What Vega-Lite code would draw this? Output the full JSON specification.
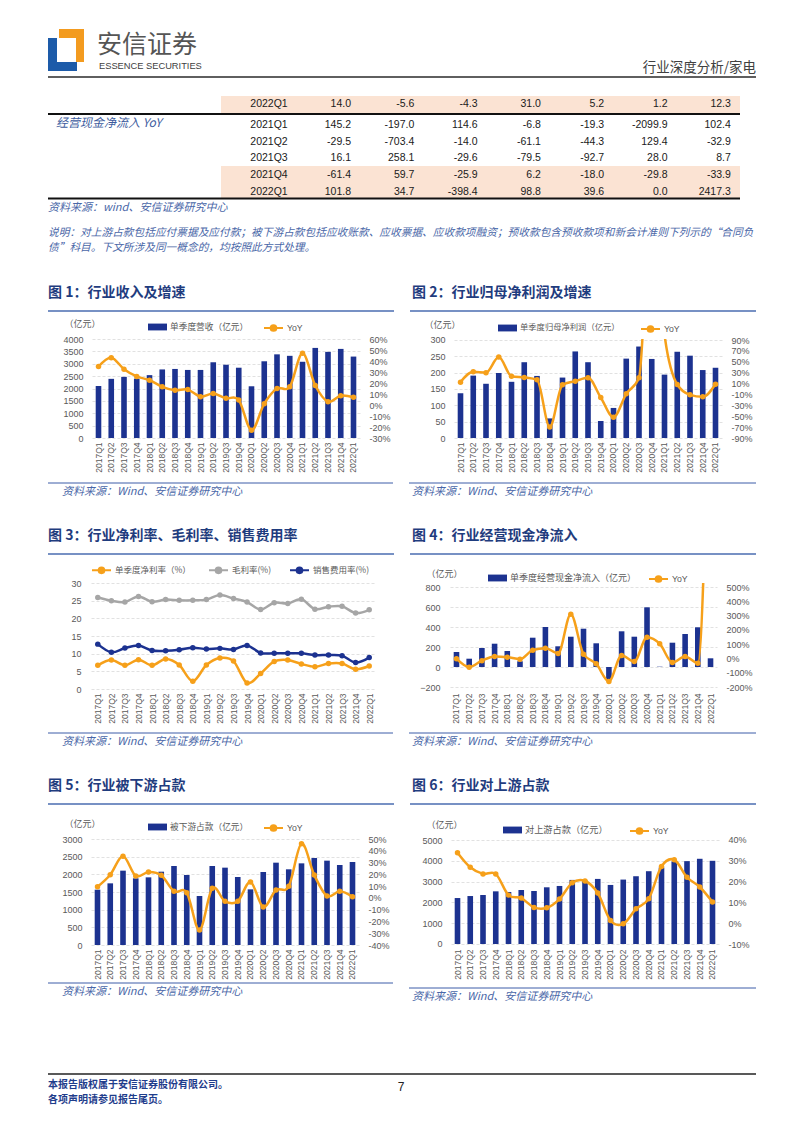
{
"$schema": "https://vega.github.io/schema/vega-lite/v6.json",
"padding": {"left": 47, "top": 0, "right": 0, "bottom": 0},
"spacing": 0,
"resolve": {"scale": {"fill": "independent", "stroke": "independent"}, "legend": {"fill": "independent", "stroke": "independent"}},
"datasets": {
"d": [
{"q":"2017Q1","rev":2100,"ry":35,"np":137,"ny":12.6,"nm":6.7,"gm":25.9,"sm":12.7,"cf":150,"cy":-2,"dn":1566,"dw":9.5,"up":2210,"uy":33.9},
{"q":"2017Q2","rev":2390,"ry":43,"np":191,"ny":31.6,"nm":8.2,"gm":25.0,"sm":10.4,"cf":83,"cy":-61,"dn":1745,"dw":19.7,"up":2306,"uy":26.9},
{"q":"2017Q3","rev":2470,"ry":32.6,"np":166,"ny":29.8,"nm":6.7,"gm":24.6,"sm":11.6,"cf":190,"cy":-16,"dn":2104,"dw":35.3,"up":2355,"uy":23.7},
{"q":"2017Q4","rev":2400,"ry":26,"np":199,"ny":58.7,"nm":8.3,"gm":26.2,"sm":12.3,"cf":233,"cy":14,"dn":1887,"dw":18.6,"up":2532,"uy":23.7},
{"q":"2018Q1","rev":2540,"ry":22.6,"np":172,"ny":23.6,"nm":6.7,"gm":24.7,"sm":10.9,"cf":160,"cy":9,"dn":1915,"dw":22,"up":2500,"uy":13.5},
{"q":"2018Q2","rev":2770,"ry":16.5,"np":232,"ny":21.2,"nm":8.5,"gm":25.3,"sm":10.8,"cf":57,"cy":-5,"dn":2075,"dw":19.2,"up":2597,"uy":12.1},
{"q":"2018Q3","rev":2790,"ry":13.4,"np":190,"ny":16.9,"nm":6.8,"gm":25.1,"sm":11.1,"cf":293,"cy":58,"dn":2236,"dw":5.6,"up":2548,"uy":7.6},
{"q":"2018Q4","rev":2750,"ry":14,"np":60,"ny":-69.7,"nm":2.2,"gm":25.1,"sm":11.7,"cf":400,"cy":72,"dn":1981,"dw":4.4,"up":2726,"uy":7.4},
{"q":"2019Q1","rev":2750,"ry":7.6,"np":185,"ny":7.7,"nm":6.8,"gm":25.3,"sm":11.3,"cf":207,"cy":35,"dn":1387,"dw":-27.3,"up":2790,"uy":11.6},
{"q":"2019Q2","rev":3060,"ry":10.4,"np":265,"ny":14.4,"nm":8.8,"gm":26.6,"sm":11.5,"cf":303,"cy":310,"dn":2236,"dw":8.1,"up":3081,"uy":19.4},
{"q":"2019Q3","rev":2960,"ry":6.1,"np":232,"ny":20.6,"nm":7.9,"gm":25.6,"sm":11.2,"cf":383,"cy":30,"dn":2189,"dw":-2.9,"up":3048,"uy":20.3},
{"q":"2019Q4","rev":2840,"ry":4.6,"np":52,"ny":-15.7,"nm":1.7,"gm":24.6,"sm":12.3,"cf":237,"cy":-37,"dn":1925,"dw":-2.9,"up":3129,"uy":14.5},
{"q":"2020Q1","rev":2090,"ry":-22.9,"np":92,"ny":-51.9,"nm":4.4,"gm":22.5,"sm":10.2,"cf":-130,"cy":-161,"dn":1575,"dw":13.5,"up":2839,"uy":1.3},
{"q":"2020Q2","rev":3100,"ry":1.2,"np":243,"ny":-8.9,"nm":7.8,"gm":24.4,"sm":10.1,"cf":357,"cy":21,"dn":2066,"dw":-7.7,"up":3097,"uy":-0.3},
{"q":"2020Q3","rev":3380,"ry":15,"np":280,"ny":20.6,"nm":8.2,"gm":24.2,"sm":10.1,"cf":303,"cy":-21,"dn":2330,"dw":6.7,"up":3258,"uy":6.9},
{"q":"2020Q4","rev":3320,"ry":16.5,"np":242,"ny":360,"nm":7.1,"gm":25.4,"sm":10.1,"cf":597,"cy":149,"dn":2142,"dw":9.8,"up":3500,"uy":11.8},
{"q":"2021Q1","rev":3080,"ry":47,"np":194,"ny":100,"nm":6.3,"gm":22.6,"sm":9.6,"cf":3,"cy":103,"dn":2311,"dw":46,"up":3677,"uy":27.3},
{"q":"2021Q2","rev":3640,"ry":17.7,"np":264,"ny":8.3,"nm":7.2,"gm":23.3,"sm":9.6,"cf":243,"cy":-28,"dn":2462,"dw":19.4,"up":3968,"uy":30.5},
{"q":"2021Q3","rev":3480,"ry":3,"np":252,"ny":-10.7,"nm":7.2,"gm":23.4,"sm":9.4,"cf":330,"cy":14,"dn":2387,"dw":1.6,"up":3984,"uy":22.1},
{"q":"2021Q4","rev":3600,"ry":8.5,"np":208,"ny":-14.4,"nm":5.6,"gm":21.5,"sm":7.5,"cf":397,"cy":-33,"dn":2264,"dw":5.6,"up":4097,"uy":17.4},
{"q":"2022Q1","rev":3290,"ry":7,"np":215,"ny":8.9,"nm":6.5,"gm":22.4,"sm":8.9,"cf":87,"cy":2400,"dn":2349,"dw":1,"up":4000,"uy":10.2}
],
"tbl": [
{"r":0,"q":"2022Q1","v1":"14.0","v2":"-5.6","v3":"-4.3","v4":"31.0","v5":"5.2","v6":"1.2","v7":"12.3"},
{"r":1,"q":"2021Q1","v1":"145.2","v2":"-197.0","v3":"114.6","v4":"-6.8","v5":"-19.3","v6":"-2099.9","v7":"102.4"},
{"r":2,"q":"2021Q2","v1":"-29.5","v2":"-703.4","v3":"-14.0","v4":"-61.1","v5":"-44.3","v6":"129.4","v7":"-32.9"},
{"r":3,"q":"2021Q3","v1":"16.1","v2":"258.1","v3":"-29.6","v4":"-79.5","v5":"-92.7","v6":"28.0","v7":"8.7"},
{"r":4,"q":"2021Q4","v1":"-61.4","v2":"59.7","v3":"-25.9","v4":"6.2","v5":"-18.0","v6":"-29.8","v7":"-33.9"},
{"r":5,"q":"2022Q1","v1":"101.8","v2":"34.7","v3":"-398.4","v4":"98.8","v5":"39.6","v6":"0.0","v7":"2417.3"}
]
},
"vconcat": [
{
"width": 708, "height": 96, "data": {"values": [{}]},
"layer": [
{"mark": {"type": "rect", "color": "#1D5BA9"}, "encoding": {"x": {"datum": 47, "type": "quantitative", "scale": {"domain": [47, 755], "nice": false, "zero": false}, "axis": null}, "x2": {"datum": 56}, "y": {"datum": 38, "type": "quantitative", "scale": {"domain": [0, 96], "reverse": true, "nice": false, "zero": false}, "axis": null}, "y2": {"datum": 71}}},
{"mark": {"type": "rect", "color": "#1D5BA9"}, "encoding": {"x": {"datum": 47, "type": "quantitative", "scale": {"domain": [47, 755], "nice": false, "zero": false}, "axis": null}, "x2": {"datum": 76}, "y": {"datum": 62, "type": "quantitative", "scale": {"domain": [0, 96], "reverse": true, "nice": false, "zero": false}, "axis": null}, "y2": {"datum": 71}}},
{"mark": {"type": "rect", "color": "#F39B1F"}, "encoding": {"x": {"datum": 58, "type": "quantitative", "scale": {"domain": [47, 755], "nice": false, "zero": false}, "axis": null}, "x2": {"datum": 83}, "y": {"datum": 29, "type": "quantitative", "scale": {"domain": [0, 96], "reverse": true, "nice": false, "zero": false}, "axis": null}, "y2": {"datum": 38}}},
{"mark": {"type": "rect", "color": "#F39B1F"}, "encoding": {"x": {"datum": 75, "type": "quantitative", "scale": {"domain": [47, 755], "nice": false, "zero": false}, "axis": null}, "x2": {"datum": 83}, "y": {"datum": 29, "type": "quantitative", "scale": {"domain": [0, 96], "reverse": true, "nice": false, "zero": false}, "axis": null}, "y2": {"datum": 62}}},
{"mark": {"type": "text", "align": "left", "baseline": "middle", "fontSize": 25, "color": "#555555"}, "encoding": {"x": {"datum": 96, "type": "quantitative", "scale": {"domain": [47, 755], "nice": false, "zero": false}, "axis": null}, "y": {"datum": 45, "type": "quantitative", "scale": {"domain": [0, 96], "reverse": true, "nice": false, "zero": false}, "axis": null}, "text": {"value": "安信证券"}}},
{"mark": {"type": "text", "align": "left", "baseline": "middle", "font": "Liberation Sans", "fontSize": 9.3, "color": "#404040"}, "encoding": {"x": {"datum": 98, "type": "quantitative", "scale": {"domain": [47, 755], "nice": false, "zero": false}, "axis": null}, "y": {"datum": 65.5, "type": "quantitative", "scale": {"domain": [0, 96], "reverse": true, "nice": false, "zero": false}, "axis": null}, "text": {"value": "ESSENCE SECURITIES"}}},
{"mark": {"type": "text", "align": "right", "baseline": "middle", "fontSize": 13.5, "color": "#404040"}, "encoding": {"x": {"datum": 755, "type": "quantitative", "scale": {"domain": [47, 755], "nice": false, "zero": false}, "axis": null}, "y": {"datum": 67.5, "type": "quantitative", "scale": {"domain": [0, 96], "reverse": true, "nice": false, "zero": false}, "axis": null}, "text": {"value": "行业深度分析/家电"}}},
{"mark": {"type": "rule", "color": "#5F5F5F", "strokeWidth": 2}, "encoding": {"x": {"datum": 47, "type": "quantitative", "scale": {"domain": [47, 755], "nice": false, "zero": false}, "axis": null}, "x2": {"datum": 755}, "y": {"datum": 77, "type": "quantitative", "scale": {"domain": [0, 96], "reverse": true, "nice": false, "zero": false}, "axis": null}}}
]
},
{
"hconcat": [
{
"width": 173, "height": 104, "data": {"values": [{}]},
"layer": [
{"mark": {"type": "text", "align": "left", "baseline": "middle", "fontSize": 12, "fontStyle": "italic", "color": "#3D5C9E", "dy": -2}, "encoding": {"x": {"datum": 55, "type": "quantitative", "scale": {"domain": [47, 220], "nice": false, "zero": false}, "axis": null}, "y": {"datum": 1, "type": "quantitative", "scale": {"domain": [-0.7083, 5.482], "reverse": true, "nice": false, "zero": false}, "axis": null}, "text": {"value": "经营现金净流入 YoY"}}},
{"mark": {"type": "rule", "color": "#111111", "strokeWidth": 2}, "encoding": {"y": {"datum": 0.363, "type": "quantitative", "scale": {"domain": [-0.7083, 5.482], "reverse": true, "nice": false, "zero": false}, "axis": null}}},
{"mark": {"type": "rule", "color": "#111111", "strokeWidth": 2}, "encoding": {"y": {"datum": 5.40, "type": "quantitative", "scale": {"domain": [-0.7083, 5.482], "reverse": true, "nice": false, "zero": false}, "axis": null}}}
]
},
{
"width": 519, "height": 104, "data": {"name": "tbl"},
"layer": [
{"data": {"values": [{}]}, "mark": {"type": "rect", "color": "#FBE3D3"}, "encoding": {"y": {"datum": -0.7083, "type": "quantitative", "scale": {"domain": [-0.7083, 5.482], "reverse": true, "nice": false, "zero": false}, "axis": null}, "y2": {"datum": 0.3036}}},
{"data": {"values": [{}]}, "mark": {"type": "rect", "color": "#FBE3D3"}, "encoding": {"y": {"datum": 3.458, "type": "quantitative", "scale": {"domain": [-0.7083, 5.482], "reverse": true, "nice": false, "zero": false}, "axis": null}, "y2": {"datum": 5.40}}},
{"data": {"values": [{}]}, "mark": {"type": "rule", "color": "#111111", "strokeWidth": 2}, "encoding": {"y": {"datum": 0.363, "type": "quantitative", "scale": {"domain": [-0.7083, 5.482], "reverse": true, "nice": false, "zero": false}, "axis": null}}},
{"data": {"values": [{}]}, "mark": {"type": "rule", "color": "#111111", "strokeWidth": 2}, "encoding": {"y": {"datum": 5.40, "type": "quantitative", "scale": {"domain": [-0.7083, 5.482], "reverse": true, "nice": false, "zero": false}, "axis": null}}},
{"transform": [{"fold": ["q","v1","v2","v3","v4","v5","v6","v7"]}, {"filter": "datum.r > 0"}], "mark": {"type": "text", "align": "right", "baseline": "middle", "font": "Liberation Sans", "fontSize": 10.5, "color": "#1A1A1A"}, "encoding": {"x": {"field": "key", "type": "nominal", "sort": ["q","v1","v2","v3","v4","v5","v6","v7"], "scale": {"type": "point", "padding": 0.5995, "align": 0.879}, "axis": null}, "y": {"field": "r", "type": "quantitative", "scale": {"domain": [-0.7083, 5.482], "reverse": true, "nice": false, "zero": false}, "axis": null}, "text": {"field": "value"}}},
{"transform": [{"fold": ["q","v1","v2","v3","v4","v5","v6","v7"]}, {"filter": "datum.r == 0"}], "mark": {"type": "text", "align": "right", "baseline": "middle", "font": "Liberation Sans", "fontSize": 10.5, "color": "#1A1A1A", "dy": -3.6}, "encoding": {"x": {"field": "key", "type": "nominal", "sort": ["q","v1","v2","v3","v4","v5","v6","v7"], "scale": {"type": "point", "padding": 0.5995, "align": 0.879}, "axis": null}, "y": {"field": "r", "type": "quantitative", "scale": {"domain": [-0.7083, 5.482], "reverse": true, "nice": false, "zero": false}, "axis": null}, "text": {"field": "value"}}}
]
}
],
"spacing": 0, "bounds": "flush"
},
{
"width": 708, "height": 112, "data": {"values": [{}]},
"layer": [
{"mark": {"type": "text", "align": "left", "baseline": "middle", "fontSize": 11, "fontStyle": "italic", "color": "#4A67A8"}, "encoding": {"x": {"datum": 47, "type": "quantitative", "scale": {"domain": [47, 755], "nice": false, "zero": false}, "axis": null}, "y": {"datum": 208, "type": "quantitative", "scale": {"domain": [200, 312], "reverse": true, "nice": false, "zero": false}, "axis": null}, "text": {"value": "资料来源：wind、安信证券研究中心"}}},
{"mark": {"type": "text", "align": "left", "baseline": "middle", "fontSize": 10.7, "fontStyle": "italic", "color": "#4A67A8"}, "encoding": {"x": {"datum": 47, "type": "quantitative", "scale": {"domain": [47, 755], "nice": false, "zero": false}, "axis": null}, "y": {"datum": 232.5, "type": "quantitative", "scale": {"domain": [200, 312], "reverse": true, "nice": false, "zero": false}, "axis": null}, "text": {"value": "说明：对上游占款包括应付票据及应付款；被下游占款包括应收账款、应收票据、应收款项融资；预收款包含预收款项和新会计准则下列示的“合同负"}}},
{"mark": {"type": "text", "align": "left", "baseline": "middle", "fontSize": 10.7, "fontStyle": "italic", "color": "#4A67A8"}, "encoding": {"x": {"datum": 47, "type": "quantitative", "scale": {"domain": [47, 755], "nice": false, "zero": false}, "axis": null}, "y": {"datum": 248, "type": "quantitative", "scale": {"domain": [200, 312], "reverse": true, "nice": false, "zero": false}, "axis": null}, "text": {"value": "债”科目。下文所涉及同一概念的，均按照此方式处理。"}}},
{"mark": {"type": "text", "align": "left", "baseline": "middle", "fontSize": 14, "fontWeight": "bold", "color": "#1F3C7E"}, "encoding": {"x": {"datum": 47, "type": "quantitative", "scale": {"domain": [47, 755], "nice": false, "zero": false}, "axis": null}, "y": {"datum": 293, "type": "quantitative", "scale": {"domain": [200, 312], "reverse": true, "nice": false, "zero": false}, "axis": null}, "text": {"value": "图 1：行业收入及增速"}}},
{"mark": {"type": "text", "align": "left", "baseline": "middle", "fontSize": 14, "fontWeight": "bold", "color": "#1F3C7E"}, "encoding": {"x": {"datum": 411, "type": "quantitative", "scale": {"domain": [47, 755], "nice": false, "zero": false}, "axis": null}, "y": {"datum": 293, "type": "quantitative", "scale": {"domain": [200, 312], "reverse": true, "nice": false, "zero": false}, "axis": null}, "text": {"value": "图 2：行业归母净利润及增速"}}},
{"mark": {"type": "rule", "color": "#4A6DB0", "strokeWidth": 1.5}, "encoding": {"x": {"datum": 47, "type": "quantitative", "scale": {"domain": [47, 755], "nice": false, "zero": false}, "axis": null}, "x2": {"datum": 393}, "y": {"datum": 311, "type": "quantitative", "scale": {"domain": [200, 312], "reverse": true, "nice": false, "zero": false}, "axis": null}}},
{"mark": {"type": "rule", "color": "#4A6DB0", "strokeWidth": 1.5}, "encoding": {"x": {"datum": 409, "type": "quantitative", "scale": {"domain": [47, 755], "nice": false, "zero": false}, "axis": null}, "x2": {"datum": 755}, "y": {"datum": 311, "type": "quantitative", "scale": {"domain": [200, 312], "reverse": true, "nice": false, "zero": false}, "axis": null}}}
]
},
{
"hconcat": [
{"width": 44, "height": 99, "data": {"values": [{}]}, "mark": {"type": "rect", "fill": "#ffffff", "fillOpacity": 0}, "encoding": {"x": {"datum": 0, "type": "quantitative", "scale": {"domain": [0, 44], "nice": false, "zero": false}, "axis": null}, "x2": {"datum": 44}, "y": {"datum": 312, "type": "quantitative", "scale": {"domain": [338, 437], "reverse": true, "nice": false, "zero": false}, "axis": null}, "y2": {"datum": 480}}},
{
"width": 268, "height": 99, "data": {"name": "d"},
"encoding": {"x": {"field": "q", "type": "ordinal", "sort": null, "scale": {"paddingInner": 0.56, "paddingOuter": 0.29}, "axis": {"title": null, "labelAngle": -90, "labelFontSize": 8.5, "labelPadding": 4}}},
"layer": [
{"mark": {"type": "bar"}, "encoding": {
"y": {"field": "rev", "type": "quantitative", "scale": {"domain": [0, 4000], "nice": false}, "axis": {"title": "（亿元）", "titleAngle": 0, "titleAlign": "left", "titleBaseline": "middle", "titleX": -28, "titleY": -16, "values": [0,500,1000,1500,2000,2500,3000,3500,4000], "format": "d", "grid": true, "labelPadding": 9}},
"fill": {"datum": "单季度营收（亿元）", "scale": {"range": ["#1C3290"]}, "legend": {"title": null, "legendX": 56, "legendY": -21.5, "symbolType": "M-1,-0.36H1V0.36H-1Z", "symbolStrokeWidth": 0}}}},
{"encoding": {"y": {"field": "ry", "type": "quantitative", "scale": {"domain": [-30, 60], "nice": false, "zero": false}, "axis": {"orient": "right", "title": null, "grid": false, "values": [-30,-20,-10,0,10,20,30,40,50,60], "labelExpr": "datum.value + '%'", "labelPadding": 9}}},
"layer": [
{"mark": {"type": "line", "interpolate": "cardinal", "strokeWidth": 2.5}, "encoding": {"stroke": {"datum": "YoY", "scale": {"range": ["#F6A01A"]}, "legend": {"title": null, "legendX": 171, "legendY": -21.5, "symbolType": "M-1,0H1M0.3,0A0.3,0.3,0,1,1,-0.3,0A0.3,0.3,0,1,1,0.3,0", "symbolStrokeWidth": 2, "symbolFillColor": "#F6A01A", "labelFont": "Liberation Sans"}}}},
{"mark": {"type": "point", "filled": true, "size": 30, "color": "#F6A01A", "opacity": 1}}
]}
],
"resolve": {"scale": {"y": "independent"}}
},
{"width": 94, "height": 1, "data": {"values": []}, "mark": "point"},
{
"width": 268, "height": 99, "data": {"name": "d"},
"encoding": {"x": {"field": "q", "type": "ordinal", "sort": null, "scale": {"paddingInner": 0.56, "paddingOuter": 0.29}, "axis": {"title": null, "labelAngle": -90, "labelFontSize": 8.5, "labelPadding": 4}}},
"layer": [
{"mark": {"type": "bar"}, "encoding": {
"y": {"field": "np", "type": "quantitative", "scale": {"domain": [0, 303.06], "nice": false}, "axis": {"title": "（亿元）", "titleAngle": 0, "titleAlign": "left", "titleBaseline": "middle", "titleX": -30, "titleY": -15, "values": [0,50,100,150,200,250,300], "format": "d", "grid": true, "labelPadding": 9}},
"fill": {"datum": "单季度归母净利润（亿元）", "scale": {"range": ["#1C3290"]}, "legend": {"title": null, "legendX": 44, "legendY": -20.5, "labelFontSize": 8.3, "symbolType": "M-1,-0.36H1V0.36H-1Z", "symbolStrokeWidth": 0}}}},
{"encoding": {"y": {"field": "ny", "type": "quantitative", "scale": {"domain": [-90, 91.84], "nice": false, "zero": false}, "axis": {"orient": "right", "title": null, "grid": false, "values": [-90,-70,-50,-30,-10,10,30,50,70,90], "labelExpr": "datum.value + '%'", "labelPadding": 9}}},
"layer": [
{"mark": {"type": "line", "interpolate": "monotone", "strokeWidth": 2.5, "clip": true}, "encoding": {"stroke": {"datum": "YoY", "scale": {"range": ["#F6A01A"]}, "legend": {"title": null, "legendX": 186, "legendY": -20.5, "symbolType": "M-1,0H1M0.3,0A0.3,0.3,0,1,1,-0.3,0A0.3,0.3,0,1,1,0.3,0", "symbolStrokeWidth": 2, "symbolFillColor": "#F6A01A", "labelFont": "Liberation Sans"}}}},
{"mark": {"type": "point", "filled": true, "size": 30, "color": "#F6A01A", "opacity": 1, "clip": true}}
]}
],
"resolve": {"scale": {"y": "independent"}}
}
],
"spacing": 0, "bounds": "flush",
"resolve": {"scale": {"fill": "independent", "stroke": "independent"}, "legend": {"fill": "independent", "stroke": "independent"}}
},
{
"width": 708, "height": 75, "data": {"values": [{}]},
"layer": [
{"mark": {"type": "rule", "color": "#3C5DA8", "strokeWidth": 1}, "encoding": {"x": {"datum": 47, "type": "quantitative", "scale": {"domain": [47, 755], "nice": false, "zero": false}, "axis": null}, "x2": {"datum": 392}, "y": {"datum": 482, "type": "quantitative", "scale": {"domain": [480, 555], "reverse": true, "nice": false, "zero": false}, "axis": null}}},
{"mark": {"type": "rule", "color": "#3C5DA8", "strokeWidth": 1}, "encoding": {"x": {"datum": 408, "type": "quantitative", "scale": {"domain": [47, 755], "nice": false, "zero": false}, "axis": null}, "x2": {"datum": 755}, "y": {"datum": 482, "type": "quantitative", "scale": {"domain": [480, 555], "reverse": true, "nice": false, "zero": false}, "axis": null}}},
{"mark": {"type": "text", "align": "left", "baseline": "middle", "fontSize": 11, "fontStyle": "italic", "color": "#4A67A8"}, "encoding": {"x": {"datum": 61, "type": "quantitative", "scale": {"domain": [47, 755], "nice": false, "zero": false}, "axis": null}, "y": {"datum": 491, "type": "quantitative", "scale": {"domain": [480, 555], "reverse": true, "nice": false, "zero": false}, "axis": null}, "text": {"value": "资料来源：Wind、安信证券研究中心"}}},
{"mark": {"type": "text", "align": "left", "baseline": "middle", "fontSize": 11, "fontStyle": "italic", "color": "#4A67A8"}, "encoding": {"x": {"datum": 411, "type": "quantitative", "scale": {"domain": [47, 755], "nice": false, "zero": false}, "axis": null}, "y": {"datum": 491, "type": "quantitative", "scale": {"domain": [480, 555], "reverse": true, "nice": false, "zero": false}, "axis": null}, "text": {"value": "资料来源：Wind、安信证券研究中心"}}},
{"mark": {"type": "text", "align": "left", "baseline": "middle", "fontSize": 14, "fontWeight": "bold", "color": "#1F3C7E"}, "encoding": {"x": {"datum": 47, "type": "quantitative", "scale": {"domain": [47, 755], "nice": false, "zero": false}, "axis": null}, "y": {"datum": 535, "type": "quantitative", "scale": {"domain": [480, 555], "reverse": true, "nice": false, "zero": false}, "axis": null}, "text": {"value": "图 3：行业净利率、毛利率、销售费用率"}}},
{"mark": {"type": "text", "align": "left", "baseline": "middle", "fontSize": 14, "fontWeight": "bold", "color": "#1F3C7E"}, "encoding": {"x": {"datum": 411, "type": "quantitative", "scale": {"domain": [47, 755], "nice": false, "zero": false}, "axis": null}, "y": {"datum": 535, "type": "quantitative", "scale": {"domain": [480, 555], "reverse": true, "nice": false, "zero": false}, "axis": null}, "text": {"value": "图 4：行业经营现金净流入"}}},
{"mark": {"type": "rule", "color": "#4A6DB0", "strokeWidth": 1.5}, "encoding": {"x": {"datum": 47, "type": "quantitative", "scale": {"domain": [47, 755], "nice": false, "zero": false}, "axis": null}, "x2": {"datum": 393}, "y": {"datum": 553, "type": "quantitative", "scale": {"domain": [480, 555], "reverse": true, "nice": false, "zero": false}, "axis": null}}},
{"mark": {"type": "rule", "color": "#4A6DB0", "strokeWidth": 1.5}, "encoding": {"x": {"datum": 409, "type": "quantitative", "scale": {"domain": [47, 755], "nice": false, "zero": false}, "axis": null}, "x2": {"datum": 755}, "y": {"datum": 553, "type": "quantitative", "scale": {"domain": [480, 555], "reverse": true, "nice": false, "zero": false}, "axis": null}}}
]
},
{
"hconcat": [
{"width": 43, "height": 106, "data": {"values": [{}]}, "mark": {"type": "rect", "fill": "#ffffff", "fillOpacity": 0}, "encoding": {"x": {"datum": 0, "type": "quantitative", "scale": {"domain": [0, 43], "nice": false, "zero": false}, "axis": null}, "x2": {"datum": 43}, "y": {"datum": 555, "type": "quantitative", "scale": {"domain": [582, 688], "reverse": true, "nice": false, "zero": false}, "axis": null}, "y2": {"datum": 730}}},
{
"width": 285, "height": 106, "data": {"name": "d"},
"transform": [{"fold": ["nm","gm","sm"], "as": ["k","v"]}],
"encoding": {
"x": {"field": "q", "type": "ordinal", "sort": null, "scale": {"type": "point", "padding": 0.5}, "axis": {"title": null, "labelAngle": -90, "labelFontSize": 8.5, "labelPadding": 4}},
"y": {"field": "v", "type": "quantitative", "scale": {"domain": [0, 30], "nice": false}, "axis": {"title": null, "values": [0,5,10,15,20,25,30], "grid": true, "labelPadding": 10}}
},
"layer": [
{"mark": {"type": "line", "interpolate": "cardinal", "strokeWidth": 2.5}, "encoding": {"stroke": {"field": "k", "type": "nominal", "scale": {"domain": ["nm","gm","sm"], "range": ["#F6A01A","#A6A6A6","#1C3290"]}, "legend": {"title": null, "legendX": 0, "legendY": -23.5, "direction": "horizontal", "columns": 3, "columnPadding": 14, "labelFontSize": 8.5, "symbolType": "M-1,0H1M0.3,0A0.3,0.3,0,1,1,-0.3,0A0.3,0.3,0,1,1,0.3,0", "symbolStrokeWidth": 2, "labelExpr": "datum.value == 'nm' ? '单季度净利率（%）' : datum.value == 'gm' ? '毛利率(%)' : '销售费用率(%)'", "encode": {"symbols": {"update": {"fill": {"signal": "datum.value == 'gm' ? '#A6A6A6' : datum.value == 'sm' ? '#1C3290' : '#F6A01A'"}}}}}}}},
{"mark": {"type": "point", "filled": true, "size": 30, "opacity": 1}, "encoding": {"fill": {"field": "k", "type": "nominal", "scale": {"domain": ["nm","gm","sm"], "range": ["#F6A01A","#A6A6A6","#1C3290"]}, "legend": null}}}
]
},
{"width": 74, "height": 1, "data": {"values": []}, "mark": "point"},
{
"width": 267, "height": 106, "data": {"name": "d"},
"encoding": {"x": {"field": "q", "type": "ordinal", "sort": null, "scale": {"paddingInner": 0.56, "paddingOuter": 0.29}, "axis": {"title": null, "labelAngle": -90, "labelFontSize": 8.5, "labelPadding": 4}}},
"layer": [
{"mark": {"type": "bar"}, "encoding": {
"y": {"field": "cf", "type": "quantitative", "scale": {"domain": [-220, 840], "nice": false}, "axis": {"title": "（亿元）", "titleAngle": 0, "titleAlign": "left", "titleBaseline": "middle", "titleX": -24, "titleY": -10, "values": [-200,0,200,400,600,800], "format": "d", "grid": true, "labelPadding": 10}},
"fill": {"datum": "单季度经营现金净流入（亿元）", "scale": {"range": ["#1C3290"]}, "legend": {"title": null, "legendX": 38, "legendY": -14.5, "labelFontSize": 9, "symbolType": "M-1,-0.36H1V0.36H-1Z", "symbolStrokeWidth": 0}}}},
{"encoding": {"y": {"field": "cy", "type": "quantitative", "scale": {"domain": [-214, 528], "nice": false, "zero": false}, "axis": {"orient": "right", "title": null, "grid": false, "values": [-200,-100,0,100,200,300,400,500], "labelExpr": "datum.value + '%'", "labelPadding": 9}}},
"layer": [
{"mark": {"type": "line", "interpolate": "monotone", "strokeWidth": 2.5, "clip": true}, "encoding": {"stroke": {"datum": "YoY", "scale": {"range": ["#F6A01A"]}, "legend": {"title": null, "legendX": 198, "legendY": -14.5, "symbolType": "M-1,0H1M0.3,0A0.3,0.3,0,1,1,-0.3,0A0.3,0.3,0,1,1,0.3,0", "symbolStrokeWidth": 2, "symbolFillColor": "#F6A01A", "labelFont": "Liberation Sans"}}}},
{"mark": {"type": "point", "filled": true, "size": 30, "color": "#F6A01A", "opacity": 1, "clip": true}}
]}
],
"resolve": {"scale": {"y": "independent"}}
}
],
"spacing": 0, "bounds": "flush",
"resolve": {"scale": {"fill": "independent", "stroke": "independent"}, "legend": {"fill": "independent", "stroke": "independent"}}
},
{
"width": 708, "height": 75, "data": {"values": [{}]},
"layer": [
{"mark": {"type": "rule", "color": "#3C5DA8", "strokeWidth": 1}, "encoding": {"x": {"datum": 47, "type": "quantitative", "scale": {"domain": [47, 755], "nice": false, "zero": false}, "axis": null}, "x2": {"datum": 392}, "y": {"datum": 732, "type": "quantitative", "scale": {"domain": [730, 805], "reverse": true, "nice": false, "zero": false}, "axis": null}}},
{"mark": {"type": "rule", "color": "#3C5DA8", "strokeWidth": 1}, "encoding": {"x": {"datum": 408, "type": "quantitative", "scale": {"domain": [47, 755], "nice": false, "zero": false}, "axis": null}, "x2": {"datum": 755}, "y": {"datum": 732, "type": "quantitative", "scale": {"domain": [730, 805], "reverse": true, "nice": false, "zero": false}, "axis": null}}},
{"mark": {"type": "text", "align": "left", "baseline": "middle", "fontSize": 11, "fontStyle": "italic", "color": "#4A67A8"}, "encoding": {"x": {"datum": 61, "type": "quantitative", "scale": {"domain": [47, 755], "nice": false, "zero": false}, "axis": null}, "y": {"datum": 741, "type": "quantitative", "scale": {"domain": [730, 805], "reverse": true, "nice": false, "zero": false}, "axis": null}, "text": {"value": "资料来源：Wind、安信证券研究中心"}}},
{"mark": {"type": "text", "align": "left", "baseline": "middle", "fontSize": 11, "fontStyle": "italic", "color": "#4A67A8"}, "encoding": {"x": {"datum": 411, "type": "quantitative", "scale": {"domain": [47, 755], "nice": false, "zero": false}, "axis": null}, "y": {"datum": 741, "type": "quantitative", "scale": {"domain": [730, 805], "reverse": true, "nice": false, "zero": false}, "axis": null}, "text": {"value": "资料来源：Wind、安信证券研究中心"}}},
{"mark": {"type": "text", "align": "left", "baseline": "middle", "fontSize": 14, "fontWeight": "bold", "color": "#1F3C7E"}, "encoding": {"x": {"datum": 47, "type": "quantitative", "scale": {"domain": [47, 755], "nice": false, "zero": false}, "axis": null}, "y": {"datum": 785, "type": "quantitative", "scale": {"domain": [730, 805], "reverse": true, "nice": false, "zero": false}, "axis": null}, "text": {"value": "图 5：行业被下游占款"}}},
{"mark": {"type": "text", "align": "left", "baseline": "middle", "fontSize": 14, "fontWeight": "bold", "color": "#1F3C7E"}, "encoding": {"x": {"datum": 411, "type": "quantitative", "scale": {"domain": [47, 755], "nice": false, "zero": false}, "axis": null}, "y": {"datum": 785, "type": "quantitative", "scale": {"domain": [730, 805], "reverse": true, "nice": false, "zero": false}, "axis": null}, "text": {"value": "图 6：行业对上游占款"}}},
{"mark": {"type": "rule", "color": "#4A6DB0", "strokeWidth": 1.5}, "encoding": {"x": {"datum": 47, "type": "quantitative", "scale": {"domain": [47, 755], "nice": false, "zero": false}, "axis": null}, "x2": {"datum": 393}, "y": {"datum": 803, "type": "quantitative", "scale": {"domain": [730, 805], "reverse": true, "nice": false, "zero": false}, "axis": null}}},
{"mark": {"type": "rule", "color": "#4A6DB0", "strokeWidth": 1.5}, "encoding": {"x": {"datum": 409, "type": "quantitative", "scale": {"domain": [47, 755], "nice": false, "zero": false}, "axis": null}, "x2": {"datum": 755}, "y": {"datum": 803, "type": "quantitative", "scale": {"domain": [730, 805], "reverse": true, "nice": false, "zero": false}, "axis": null}}}
]
},
{
"hconcat": [
{"width": 43, "height": 106, "data": {"values": [{}]}, "mark": {"type": "rect", "fill": "#ffffff", "fillOpacity": 0}, "encoding": {"x": {"datum": 0, "type": "quantitative", "scale": {"domain": [0, 43], "nice": false, "zero": false}, "axis": null}, "x2": {"datum": 43}, "y": {"datum": 805, "type": "quantitative", "scale": {"domain": [838, 944], "reverse": true, "nice": false, "zero": false}, "axis": null}, "y2": {"datum": 980}}},
{
"width": 268, "height": 106, "data": {"name": "d"},
"encoding": {"x": {"field": "q", "type": "ordinal", "sort": null, "scale": {"paddingInner": 0.56, "paddingOuter": 0.29}, "axis": {"title": null, "labelAngle": -90, "labelFontSize": 8.5, "labelPadding": 4}}},
"layer": [
{"mark": {"type": "bar"}, "encoding": {
"y": {"field": "dn", "type": "quantitative", "scale": {"domain": [0, 3000], "nice": false}, "axis": {"title": "（亿元）", "titleAngle": 0, "titleAlign": "left", "titleBaseline": "middle", "titleX": -27, "titleY": -16, "values": [0,500,1000,1500,2000,2500,3000], "format": "d", "grid": true, "labelPadding": 9}},
"fill": {"datum": "被下游占款（亿元）", "scale": {"range": ["#1C3290"]}, "legend": {"title": null, "legendX": 57, "legendY": -21.5, "symbolType": "M-1,-0.36H1V0.36H-1Z", "symbolStrokeWidth": 0}}}},
{"encoding": {"y": {"field": "dw", "type": "quantitative", "scale": {"domain": [-40, 50], "nice": false, "zero": false}, "axis": {"orient": "right", "title": null, "grid": false, "values": [-40,-30,-20,-10,0,10,20,30,40,50], "labelExpr": "datum.value + '%'", "labelPadding": 9}}},
"layer": [
{"mark": {"type": "line", "interpolate": "cardinal", "strokeWidth": 2.5}, "encoding": {"stroke": {"datum": "YoY", "scale": {"range": ["#F6A01A"]}, "legend": {"title": null, "legendX": 172, "legendY": -21.5, "symbolType": "M-1,0H1M0.3,0A0.3,0.3,0,1,1,-0.3,0A0.3,0.3,0,1,1,0.3,0", "symbolStrokeWidth": 2, "symbolFillColor": "#F6A01A", "labelFont": "Liberation Sans"}}}},
{"mark": {"type": "point", "filled": true, "size": 30, "color": "#F6A01A", "opacity": 1}}
]}
],
"resolve": {"scale": {"y": "independent"}}
},
{"width": 92, "height": 1, "data": {"values": []}, "mark": "point"},
{
"width": 268, "height": 106, "data": {"name": "d"},
"encoding": {"x": {"field": "q", "type": "ordinal", "sort": null, "scale": {"paddingInner": 0.56, "paddingOuter": 0.29}, "axis": {"title": null, "labelAngle": -90, "labelFontSize": 8.5, "labelPadding": 4}}},
"layer": [
{"mark": {"type": "bar"}, "encoding": {
"y": {"field": "up", "type": "quantitative", "scale": {"domain": [-48.1, 5048.1], "nice": false}, "axis": {"title": "（亿元）", "titleAngle": 0, "titleAlign": "left", "titleBaseline": "middle", "titleX": -25, "titleY": -15, "values": [0,1000,2000,3000,4000,5000], "format": "d", "grid": true, "labelPadding": 9}},
"fill": {"datum": "对上游占款（亿元）", "scale": {"range": ["#1C3290"]}, "legend": {"title": null, "legendX": 52, "legendY": -18.5, "labelFontSize": 9.2, "symbolType": "M-1,-0.36H1V0.36H-1Z", "symbolStrokeWidth": 0}}}},
{"encoding": {"y": {"field": "uy", "type": "quantitative", "scale": {"domain": [-10.48, 40.48], "nice": false, "zero": false}, "axis": {"orient": "right", "title": null, "grid": false, "values": [-10,0,10,20,30,40], "labelExpr": "datum.value + '%'", "labelPadding": 9}}},
"layer": [
{"mark": {"type": "line", "interpolate": "cardinal", "strokeWidth": 2.5}, "encoding": {"stroke": {"datum": "YoY", "scale": {"range": ["#F6A01A"]}, "legend": {"title": null, "legendX": 178, "legendY": -18.5, "symbolType": "M-1,0H1M0.3,0A0.3,0.3,0,1,1,-0.3,0A0.3,0.3,0,1,1,0.3,0", "symbolStrokeWidth": 2, "symbolFillColor": "#F6A01A", "labelFont": "Liberation Sans"}}}},
{"mark": {"type": "point", "filled": true, "size": 30, "color": "#F6A01A", "opacity": 1}}
]}
],
"resolve": {"scale": {"y": "independent"}}
}
],
"spacing": 0, "bounds": "flush",
"resolve": {"scale": {"fill": "independent", "stroke": "independent"}, "legend": {"fill": "independent", "stroke": "independent"}}
},
{
"width": 708, "height": 153, "data": {"values": [{}]},
"layer": [
{"mark": {"type": "rule", "color": "#3C5DA8", "strokeWidth": 1}, "encoding": {"x": {"datum": 47, "type": "quantitative", "scale": {"domain": [47, 755], "nice": false, "zero": false}, "axis": null}, "x2": {"datum": 392}, "y": {"datum": 982, "type": "quantitative", "scale": {"domain": [980, 1133], "reverse": true, "nice": false, "zero": false}, "axis": null}}},
{"mark": {"type": "rule", "color": "#3C5DA8", "strokeWidth": 1}, "encoding": {"x": {"datum": 408, "type": "quantitative", "scale": {"domain": [47, 755], "nice": false, "zero": false}, "axis": null}, "x2": {"datum": 755}, "y": {"datum": 987, "type": "quantitative", "scale": {"domain": [980, 1133], "reverse": true, "nice": false, "zero": false}, "axis": null}}},
{"mark": {"type": "text", "align": "left", "baseline": "middle", "fontSize": 11, "fontStyle": "italic", "color": "#4A67A8"}, "encoding": {"x": {"datum": 61, "type": "quantitative", "scale": {"domain": [47, 755], "nice": false, "zero": false}, "axis": null}, "y": {"datum": 991, "type": "quantitative", "scale": {"domain": [980, 1133], "reverse": true, "nice": false, "zero": false}, "axis": null}, "text": {"value": "资料来源：Wind、安信证券研究中心"}}},
{"mark": {"type": "text", "align": "left", "baseline": "middle", "fontSize": 11, "fontStyle": "italic", "color": "#4A67A8"}, "encoding": {"x": {"datum": 411, "type": "quantitative", "scale": {"domain": [47, 755], "nice": false, "zero": false}, "axis": null}, "y": {"datum": 996, "type": "quantitative", "scale": {"domain": [980, 1133], "reverse": true, "nice": false, "zero": false}, "axis": null}, "text": {"value": "资料来源：Wind、安信证券研究中心"}}},
{"mark": {"type": "rule", "color": "#222222", "strokeWidth": 1.5}, "encoding": {"x": {"datum": 47, "type": "quantitative", "scale": {"domain": [47, 755], "nice": false, "zero": false}, "axis": null}, "x2": {"datum": 755}, "y": {"datum": 1073, "type": "quantitative", "scale": {"domain": [980, 1133], "reverse": true, "nice": false, "zero": false}, "axis": null}}},
{"mark": {"type": "text", "align": "left", "baseline": "middle", "fontSize": 10, "fontWeight": "bold", "color": "#1F3D8C"}, "encoding": {"x": {"datum": 47, "type": "quantitative", "scale": {"domain": [47, 755], "nice": false, "zero": false}, "axis": null}, "y": {"datum": 1084, "type": "quantitative", "scale": {"domain": [980, 1133], "reverse": true, "nice": false, "zero": false}, "axis": null}, "text": {"value": "本报告版权属于安信证券股份有限公司。"}}},
{"mark": {"type": "text", "align": "left", "baseline": "middle", "fontSize": 10, "fontWeight": "bold", "color": "#1F3D8C"}, "encoding": {"x": {"datum": 47, "type": "quantitative", "scale": {"domain": [47, 755], "nice": false, "zero": false}, "axis": null}, "y": {"datum": 1099, "type": "quantitative", "scale": {"domain": [980, 1133], "reverse": true, "nice": false, "zero": false}, "axis": null}, "text": {"value": "各项声明请参见报告尾页。"}}},
{"mark": {"type": "text", "align": "center", "baseline": "middle", "font": "Liberation Sans", "fontSize": 12, "color": "#222222"}, "encoding": {"x": {"datum": 400, "type": "quantitative", "scale": {"domain": [47, 755], "nice": false, "zero": false}, "axis": null}, "y": {"datum": 1086, "type": "quantitative", "scale": {"domain": [980, 1133], "reverse": true, "nice": false, "zero": false}, "axis": null}, "text": {"value": "7"}}}
]
}
],
"config": {
"view": {"stroke": null},
"background": "#ffffff",
"font": "Noto Sans CJK SC",
"axis": {"domain": false, "ticks": false, "labelFont": "Liberation Sans", "labelFontSize": 9, "labelColor": "#595959", "titleFont": "Noto Sans CJK SC", "titleFontSize": 9, "titleFontWeight": "normal", "titleColor": "#595959", "gridColor": "#D9D9D9", "gridDash": [3, 2], "gridWidth": 0.8},
"legend": {"orient": "none", "padding": 0, "labelFont": "Noto Sans CJK SC", "labelFontSize": 8.7, "labelColor": "#595959", "symbolSize": 361, "labelOffset": 3}
}
}
